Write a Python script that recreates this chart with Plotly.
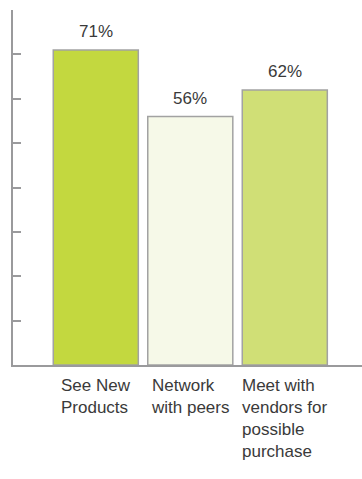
import plotly.graph_objects as go

categories = ["See New Products", "Network with peers", "Meet with vendors for possible purchase"]
category_labels = ["See New<br>Products", "Network<br>with peers", "Meet with<br>vendors for<br>possible<br>purchase"]
values = [71, 56, 62]
value_labels = ["71%", "56%", "62%"]
colors = ["#c3d83f", "#f6f9e8", "#d0df76"]

FONT = "Liberation Sans, Arial, sans-serif"
TEXT = "#3a3a3a"
AXIS = "#9a9a9c"

fig = go.Figure()
fig.add_trace(go.Bar(
    x=categories, y=values, width=0.9,
    marker=dict(color=colors, line=dict(color="#a2a2a2", width=1.5)),
    hoverinfo="skip",
))

annotations = []
for c, v, t in zip(categories, values, value_labels):
    annotations.append(dict(x=c, y=v, xref="x", yref="y", text=t, showarrow=False,
                            yanchor="bottom", xanchor="center", yshift=7,
                            font=dict(family=FONT, size=17, color=TEXT)))
for c, t in zip(categories, category_labels):
    annotations.append(dict(x=c, y=0, xref="x", yref="y", text=t, showarrow=False,
                            yanchor="top", xanchor="center", align="left", yshift=-9,
                            font=dict(family=FONT, size=17, color=TEXT)))

fig.update_layout(
    width=362, height=479,
    margin=dict(l=13, r=0, t=10, b=114),
    paper_bgcolor="white", plot_bgcolor="white",
    showlegend=False,
    annotations=annotations,
    xaxis=dict(range=[-0.876, 2.817], showline=True, linecolor=AXIS, linewidth=2,
               showticklabels=False, ticks="", showgrid=False, zeroline=False, fixedrange=True),
    yaxis=dict(range=[0, 80], dtick=10, tick0=0, showline=True, linecolor=AXIS, linewidth=2,
               ticks="inside", ticklen=8, tickwidth=2, tickcolor=AXIS,
               showticklabels=False, showgrid=False, zeroline=False, fixedrange=True),
)

fig.write_html("out.html", config={"displayModeBar": False},
               post_script="document.body.style.margin='0';document.body.style.overflow='hidden';")
